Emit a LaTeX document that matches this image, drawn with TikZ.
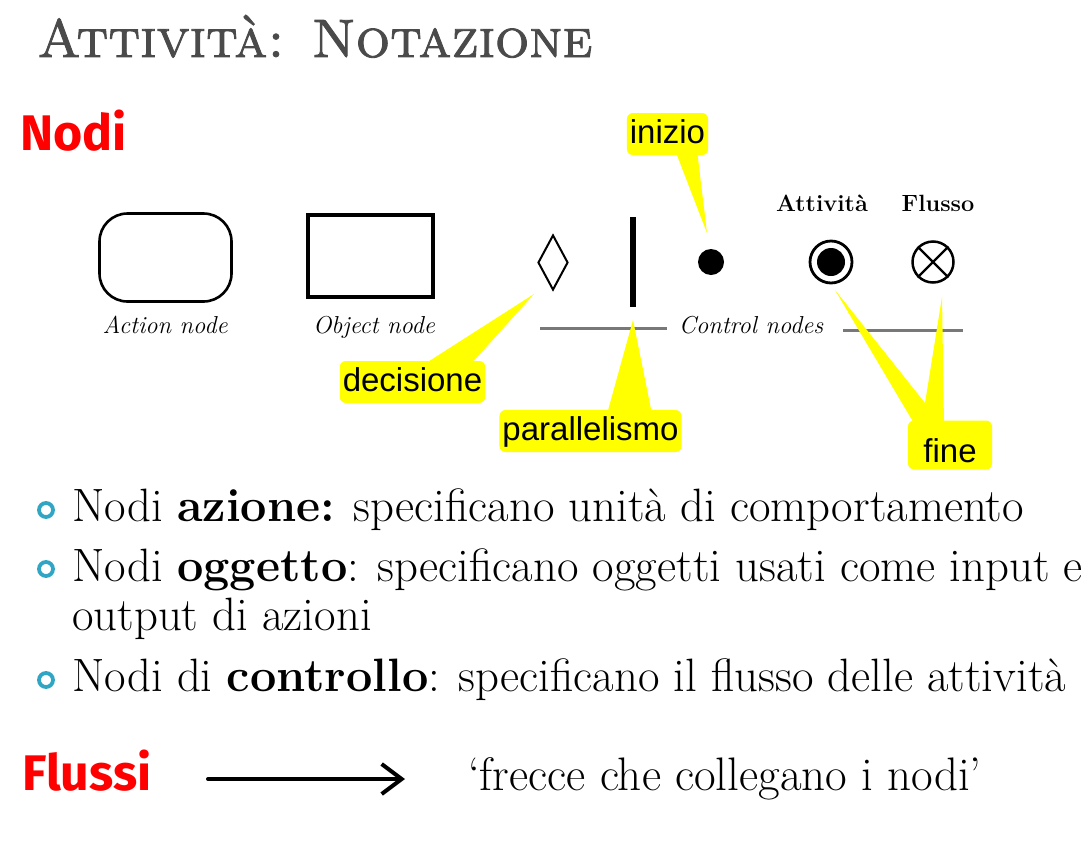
\documentclass[tikz,border=0pt]{standalone}
\usepackage{fontspec}
\newfontfamily\arialf{Liberation Sans}
\newfontfamily\comicf{Fira Sans}
\newfontface\titlef{lmromancaps10-regular.otf}[FakeBold=1.6]
\usetikzlibrary{arrows.meta,shapes.geometric}
\definecolor{calloutyellow}{RGB}{255,255,0}
\definecolor{titlegray}{RGB}{74,74,74}
\definecolor{bulletblue}{RGB}{49,166,196}
\definecolor{redtitle}{RGB}{255,0,0}
\definecolor{linegray}{RGB}{120,120,120}
\tikzset{
  txt/.style={inner sep=0pt, anchor=base west},
  bodytxt/.style={txt, font=\fontsize{46.8}{50}\selectfont},
  redhead/.style={txt, text=redtitle, font=\comicf\bfseries\fontsize{50}{54}\selectfont},
  captiontxt/.style={inner sep=0pt, anchor=base, font=\itshape\fontsize{24.5}{26}\selectfont},
  boldcap/.style={inner sep=0pt, anchor=base, font=\bfseries\fontsize{23.5}{26}\selectfont},
  callbox/.style={fill=calloutyellow, rounded corners=6pt, inner xsep=3pt, inner ysep=5pt,
    font=\arialf\fontsize{33}{36}\selectfont, text height=25pt, text depth=7pt},
  pointer/.style={fill=calloutyellow, draw=none},
  bulletring/.style={circle, draw=bulletblue, line width=3.8pt, minimum size=14pt, inner sep=0pt},
}
\begin{document}
\begin{tikzpicture}[x=1pt,y=-1pt]
\useasboundingbox[fill=white] (0,0) rectangle (1086,846);

% title
\node[txt, text=titlegray, font=\titlef\fontsize{54}{60}\selectfont] (title) at (37,57) {Attività: Notazione};
\node[redhead] (nodi) at (20,150) {Nodi};

% UML shapes
\node[draw, line width=2.6pt, rounded corners=28pt, minimum width=132pt, minimum height=88pt, inner sep=0pt] (action) at (165.5,257.5) {};
\node[draw, line width=4pt, minimum width=125pt, minimum height=82pt, inner sep=0pt] (object) at (370.5,256) {};
\node[captiontxt] (actionlbl) at (165,333) {Action node};
\node[captiontxt] (objectlbl) at (374,333) {Object node};

\node[diamond, draw, line width=2pt, minimum width=30pt, minimum height=55pt, inner sep=0pt] (decision) at (553,262.5) {};
\node[fill=black, minimum width=6pt, minimum height=90pt, inner sep=0pt] (fork) at (633,262) {};
\node[circle, fill=black, minimum size=26pt, inner sep=0pt] (initial) at (711,262) {};
\node[circle, draw, line width=2.8pt, minimum size=42pt, inner sep=0pt] (actfinal) at (831,262) {};
\node[circle, fill=black, minimum size=28pt, inner sep=0pt] (actfinaldot) at (831,262) {};
\node[circle, draw, line width=2.5pt, minimum size=41pt, inner sep=0pt] (flowfinal) at (933,262) {};
\draw[line width=2.2pt] (flowfinal.north west) -- (flowfinal.south east);
\draw[line width=2.2pt] (flowfinal.north east) -- (flowfinal.south west);
\node[boldcap] (attlbl) at (822,211) {Attività};
\node[boldcap] (flulbl) at (938,211) {Flusso};

% control nodes line
\node[captiontxt] (ctrllbl) at (751,333) {Control nodes};
\coordinate (cl1) at (540,328);
\coordinate (cl2) at (667,328);
\coordinate (cr1) at (843,330);
\coordinate (cr2) at (963,330);
\draw[linegray, line width=3pt] (cl1) -- (cl2);
\draw[linegray, line width=3pt] (cr1) -- (cr2);

% callouts
\coordinate (tipinizio) at (707,233);
\coordinate (tipdec) at (534,294);
\coordinate (tippar) at (633,320);
\coordinate (tipfine1) at (835,290);
\coordinate (tipfine2) at (942,297);
\coordinate (finejoin) at (925,403);

\fill[pointer] (675,150) -- (tipinizio) -- (697,150) -- cycle;
\node[callbox] (inizio) at (667.5,134) {inizio};

\fill[pointer] (423,365) -- (tipdec) -- (470,365) -- cycle;
\node[callbox] (decisione) at (412.5,382) {decisione};

\fill[pointer] (607,414) -- (tippar) -- (652,414) -- cycle;
\node[callbox] (parallelismo) at (590.5,431) {parallelismo};

\fill[pointer] (tipfine1) -- (915,425) -- (944,425) -- (tipfine2) -- (finejoin) -- cycle;
\node[callbox, minimum width=84pt, text height=36pt, text depth=1pt, inner ysep=6pt] (fine) at (950,445) {fine};

% bullets
\node[bulletring] (b1) at (46,510) {};
\node[bulletring] (b2) at (46,569) {};
\node[bulletring] (b3) at (46,680) {};
\node[bodytxt] (l1) at (72,521) {Nodi \textbf{azione:} specificano unità di comportamento};
\node[bodytxt] (l2) at (72,581) {Nodi \textbf{oggetto}: specificano oggetti usati come input e};
\node[bodytxt] (l2b) at (72,630) {output di azioni};
\node[bodytxt] (l3) at (72,691) {Nodi di \textbf{controllo}: specificano il flusso delle attività};

% flussi
\node[redhead] (flussi) at (22,790) {Flussi};
\coordinate (arrs) at (208,779);
\coordinate (arre) at (405,779);
\draw[line width=4pt, line cap=round, -{Straight Barb[length=20pt, width=30pt, line width=4pt]}] (arrs) -- (arre);
\node[bodytxt, font=\fontsize{47}{50}\selectfont] (frecce) at (468,790) {‘frecce che collegano i nodi’};
\end{tikzpicture}
\end{document}
